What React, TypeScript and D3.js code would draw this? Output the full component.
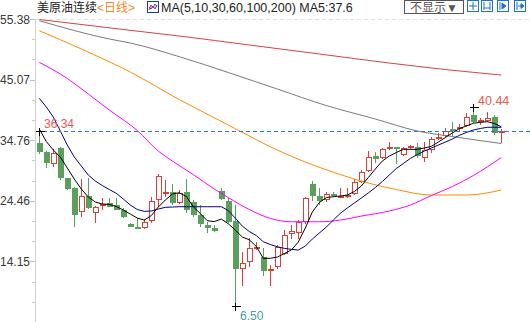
import React from "react";
import * as d3 from "d3";

// ---- data ----
const yTickValues = [55.38, 45.07, 34.76, 24.46, 14.15];

const candleOpen = [
  34.34, 32.8, 30.66, 33.38, 28.28, 26.68, 22.5, 25.27, 22.32, 23.7,
  24.0, 23.74, 22.88, 20.5, 19.95, 19.77, 21.0, 24.59, 25.85, 26.0,
  24.03, 26.0, 24.3, 22.0, 20.33, 19.88, 26.17, 24.47, 21.07, 12.8,
  13.99, 16.5, 14.84, 12.75, 13.14, 15.39, 18.75, 18.92, 20.9, 27.26,
  25.27, 24.59, 25.66, 25.15, 25.15, 25.61, 27.7, 29.52, 32.07, 31.68,
  33.26, 33.54, 32.24, 33.38, 33.65, 31.8, 33.1, 35.1, 35.47, 36.67,
  36.62, 37.18, 39.05, 37.9, 38.08, 38.76, 36.2,
];
const candleClose = [
  32.75, 30.83, 32.53, 28.28, 26.46, 22.0, 25.27, 23.3, 23.35, 23.9,
  23.45, 22.88, 21.64, 19.94, 19.8, 20.9, 24.4, 28.67, 26.0, 24.03,
  25.73, 22.88, 22.0, 20.5, 19.88, 19.3, 24.7, 20.9, 12.8, 13.82,
  16.37, 16.65, 12.56, 12.85, 16.65, 18.62, 19.32, 20.9, 24.87, 25.27,
  24.47, 25.61, 25.27, 25.32, 25.44, 27.7, 29.4, 31.95, 31.56, 33.21,
  33.54, 33.2, 33.38, 33.77, 32.07, 33.1, 34.9, 35.36, 36.38, 36.33,
  37.06, 38.76, 37.9, 38.2, 38.48, 35.93, 36.34,
];
const candleHigh = [
  36.34, 32.9, 33.2, 33.65, 28.4, 26.8, 28.1, 28.28, 23.57, 24.87,
  24.98, 24.87, 23.2, 20.6, 21.6, 21.3, 25.15, 29.01, 27.99, 27.26,
  26.29, 28.1, 24.59, 23.7, 20.9, 20.3, 26.58, 24.87, 23.74, 15.8,
  18.07, 17.5, 16.37, 13.5, 16.93, 19.48, 20.33, 21.19, 25.15, 27.82,
  26.58, 26.0, 25.9, 26.58, 26.7, 28.1, 29.69, 32.92, 32.8, 33.48,
  34.4, 33.65, 33.65, 33.94, 34.23, 34.5, 35.36, 35.93, 36.78, 37.9,
  37.52, 39.44, 40.44, 38.48, 39.6, 39.05, 36.7,
];
const candleLow = [
  32.5, 29.98, 30.25, 28.0, 26.3, 19.94, 21.65, 23.0, 20.73, 22.88,
  23.4, 22.88, 21.6, 19.94, 19.7, 19.65, 20.62, 23.45, 25.15, 23.74,
  23.9, 22.32, 21.75, 19.94, 19.0, 19.2, 24.59, 20.62, 6.5, 9.96,
  13.24, 16.1, 11.66, 9.96, 12.8, 15.23, 17.9, 17.9, 20.5, 24.47,
  23.74, 24.3, 25.1, 24.98, 25.0, 25.44, 27.43, 29.4, 30.83, 31.51,
  33.1, 30.7, 32.07, 33.2, 31.68, 31.1, 32.53, 34.8, 35.36, 35.36,
  36.38, 37.06, 37.63, 37.3, 37.9, 35.65, 34.23,
];

const ma5 = [
  36.67, 34.54, 33.09, 31.9, 30.03, 28.16, 26.46, 25.1, 24.25, 23.91,
  23.85, 23.48, 22.89, 22.2, 21.52, 21.18, 21.95, 23.4, 24.59, 25.61,
  25.83, 25.18, 23.45, 22.29, 21.06, 20.93, 21.35, 20.55, 19.48, 18.29,
  17.83, 16.68, 14.67, 14.67, 14.89, 15.48, 16.08, 17.44, 19.82, 22.54,
  24.16, 25.01, 25.15, 25.27, 25.44, 26.03, 26.97, 28.41, 29.86, 31.22,
  32.07, 32.67, 33.21, 33.21, 33.21, 33.43, 33.72, 34.45, 35.22, 35.99,
  36.72, 37.18, 37.64, 37.81, 37.91, 37.6, 37.06,
];
const ma10 = [
  41.89, 40.41, 38.71, 36.33, 33.94, 31.9, 30.37, 28.84, 27.82, 27.05,
  26.37, 25.73, 24.76, 23.74, 22.97, 22.66, 22.72, 23.06, 23.34, 23.4,
  23.45, 23.45, 23.45, 23.45, 23.45, 23.45, 23.45, 22.8, 21.52, 20.16,
  19.23, 18.55, 17.49, 17.02, 16.64, 16.37, 16.2, 16.08, 16.76, 17.95,
  18.97, 19.99, 21.18, 22.32, 23.23, 24.08, 24.93, 25.78, 26.71, 27.73,
  28.84, 29.95, 30.8, 31.65, 32.33, 32.92, 33.43, 33.94, 34.45, 34.96,
  35.59, 36.07, 36.5, 36.75, 36.96, 36.96, 36.96,
];
const ma30Idx = [0, 4, 7, 10, 14, 17, 19, 22, 25, 27, 30, 33, 36, 40, 43, 46, 50, 53, 56, 59, 62, 66];
const ma30Val = [48.01, 45.26, 42.62, 39.9, 36.41, 32.92, 31.22, 28.92, 26.46, 25.01, 22.97, 21.47, 20.89, 20.89, 21.18, 21.86, 22.72, 23.74, 25.35, 26.88, 28.75, 31.82];
const ma60Idx = [0, 6, 13, 20, 27, 34, 38, 43, 47, 51, 56, 61, 66];
const ma60Val = [53.39, 50.28, 46.36, 41.68, 37.35, 33.09, 31.05, 28.92, 27.48, 26.37, 25.44, 25.44, 26.29];
const ma100Idx = [0, 10, 13, 20, 27, 34, 41, 48, 54, 59, 66];
const ma100Val = [55.09, 51.98, 51.3, 48.97, 46.28, 43.47, 40.66, 38.37, 36.33, 35.39, 34.2];
const ma200Idx = [0, 12, 20, 30, 40, 50, 58, 66];
const ma200Val = [55.3, 53.59, 52.49, 50.96, 49.43, 47.89, 46.79, 45.85];

const lastPrice = 36.34;
const maxMark = { idx: 62, value: 40.44, label: "40.44" };
const minMark = { idx: 28, value: 6.5, label: "6.50" };
const startMark = { idx: 0, value: 36.34, label: "36.34" };

const titleName = "美原油连续";
const titlePeriod = "<日线>";
const titleMA = "MA(5,10,30,60,100,200) MA5:37.6";
const buttonLabel = "不显示▼";

// ---- styles ----
const W = 530;
const H = 322;
const RED = "#dc3f3a";
const GREEN = "#5c9f5c";
const LATIN = "'Liberation Sans', Arial, 'Noto Sans CJK SC', sans-serif";

export default function App() {
  const x = d3.scaleLinear().domain([0, 66]).range([39.3, 501.3]);
  const y = d3.scaleLinear().domain([55.38, 14.15]).range([19, 261.4]);

  const step = (yTickValues[0] - yTickValues[1]) / 3;
  const minorTicks = d3.range(0, 20).map((k) => yTickValues[0] - k * step).filter((v) => y(v) <= H);

  const denseLine = d3
    .line<number>()
    .x((_, i) => x(i))
    .y((d) => y(d));
  const sparseLine = (idx: number[], vals: number[]) =>
    d3
      .line<number>()
      .x((_, i) => x(idx[i]))
      .y((d) => y(d))
      .curve(d3.curveMonotoneX)(vals) || "";

  const cx = (i: number) => Math.round(x(i)) + 0.5;

  const candles = candleOpen.map((o, i) => {
    const c = candleClose[i];
    const up = c >= o;
    const col = up ? RED : GREEN;
    const xc = cx(i);
    const top = Math.round(y(Math.max(o, c)));
    const bot = Math.round(y(Math.min(o, c)));
    const hi = Math.round(y(candleHigh[i]));
    const lo = Math.round(y(candleLow[i]));
    const flat = bot - top < 2;
    return (
      <g key={i}>
        <line x1={xc} x2={xc} y1={hi} y2={lo} stroke={col} strokeWidth={1} />
        {flat ? (
          <line x1={xc - 3} x2={xc + 3} y1={top + 0.5} y2={top + 0.5} stroke={col} strokeWidth={2} />
        ) : up ? (
          <rect x={xc - 2.5} y={top + 0.5} width={5} height={bot - top - 1} fill="#fff" stroke={col} strokeWidth={1} />
        ) : (
          <rect x={xc - 3} y={top} width={6} height={bot - top} fill={col} />
        )}
      </g>
    );
  });

  const cross = (i: number, v: number) => {
    const px = cx(i);
    const py = Math.round(y(v)) + 0.5;
    return (
      <g stroke="#000" strokeWidth={1} shapeRendering="crispEdges">
        <line x1={px - 4} x2={px + 5} y1={py} y2={py} />
        <line x1={px} x2={px} y1={py - 4} y2={py + 4} />
      </g>
    );
  };

  return (
    <svg
      width={W}
      height={H}
      style={{ position: "absolute", left: 0, top: 0, background: "#fff" }}
    >
      {/* header */}
      <text x={37} y={12} fontFamily={LATIN} fontSize={12} fill="#222">
        {titleName}
        <tspan fill="#f08a1c">{titlePeriod}</tspan>
      </text>
      <g transform="translate(147,1)">
        <rect x={0.5} y={0.5} width={11} height={11} fill="#fff" stroke="#1a3f8f" />
        <polyline points="2,9 4,4 6,7 8,3 10,6" fill="none" stroke="#e03030" strokeWidth={1} />
        <polyline points="2,6 4,8 6,5 8,8 10,4" fill="none" stroke="#2050d0" strokeWidth={1} />
      </g>
      <text x={161} y={12} fontFamily={LATIN} fontSize={12.5} fill="#222">
        {titleMA}
      </text>
      <rect x={404.5} y={0.5} width={59} height={13} fill="#fff" stroke="#555" />
      <text x={434} y={11.5} textAnchor="middle" fontFamily={LATIN} fontSize={12} fill="#555">
        {buttonLabel}
      </text>
      {[467, 481, 497, 514].map((bx, k) => (
        <g key={k} transform={`translate(${bx},0)`} stroke="#1d6fd6" fill="none">
          <rect x={0.5} y={0.5} width={11} height={11} />
          {k === 0 && (
            <g>
              <line x1={6} x2={6} y1={2} y2={10} />
              <line x1={2} x2={10} y1={6} y2={6} />
            </g>
          )}
          {k === 1 && (
            <g>
              <line x1={3} x2={3} y1={2} y2={10} />
              <line x1={9} x2={9} y1={2} y2={10} />
              <line x1={3} x2={9} y1={8} y2={8} />
            </g>
          )}
          {k === 2 && (
            <g>
              <line x1={3} x2={3} y1={2} y2={10} />
              <path d="M5,3 L9,6 L5,9 Z" fill="#1d6fd6" />
            </g>
          )}
          {k === 3 && (
            <g>
              <line x1={3} x2={3} y1={2} y2={10} />
              <line x1={4} x2={9} y1={6} y2={6} />
              <path d="M7,3.5 L10,6 L7,8.5 Z" fill="#1d6fd6" />
            </g>
          )}
        </g>
      ))}

      {/* top dashed grid */}
      <line x1={35} x2={W} y1={19.5} y2={19.5} stroke="#e2e2e2" strokeDasharray="4,3" />

      {/* y axis */}
      <line x1={35.5} x2={35.5} y1={19} y2={H} stroke="#d0d0d0" />
      {minorTicks.map((v, k) => (
        <line key={k} x1={32} x2={35} y1={Math.round(y(v)) + 0.5} y2={Math.round(y(v)) + 0.5} stroke="#c8c8c8" />
      ))}
      {yTickValues.map((v) => (
        <g key={v}>
          <line x1={30} x2={35} y1={Math.round(y(v)) + 0.5} y2={Math.round(y(v)) + 0.5} stroke="#aac4e0" />
          <text x={30} y={y(v) + 4.5} textAnchor="end" fontFamily={LATIN} fontSize={12} fill="#3a3a3a">
            {v.toFixed(2)}
          </text>
        </g>
      ))}

      {/* candles */}
      <g shapeRendering="crispEdges">{candles}</g>

      {/* moving averages */}
      <path d={sparseLine(ma200Idx, ma200Val)} fill="none" stroke="#d64440" strokeWidth={1} />
      <path d={sparseLine(ma100Idx, ma100Val)} fill="none" stroke="#7a7a7a" strokeWidth={1} />
      <path d={sparseLine(ma60Idx, ma60Val)} fill="none" stroke="#ff8a00" strokeWidth={1} />
      <path d={sparseLine(ma30Idx, ma30Val)} fill="none" stroke="#ff00ff" strokeWidth={1} />
      <path d={denseLine(ma10) || ""} fill="none" stroke="#000080" strokeWidth={1} />
      <path d={denseLine(ma5) || ""} fill="none" stroke="#000" strokeWidth={1} />

      {/* last price dashed line */}
      <line
        x1={36}
        x2={W}
        y1={Math.round(y(lastPrice)) + 0.5}
        y2={Math.round(y(lastPrice)) + 0.5}
        stroke="#1a78f0"
        strokeWidth={1.2}
        strokeDasharray="4,3"
        shapeRendering="crispEdges"
      />

      {/* extreme marks */}
      {cross(startMark.idx, startMark.value)}
      {cross(maxMark.idx, maxMark.value)}
      {cross(minMark.idx, minMark.value)}
      <text x={44} y={128} fontFamily={LATIN} fontSize={12} fill="#e85a55">
        {startMark.label}
      </text>
      <text x={478} y={105} fontFamily={LATIN} fontSize={12.5} fill="#e85a55">
        {maxMark.label}
      </text>
      <text x={240} y={320} fontFamily={LATIN} fontSize={12} fill="#4aa09a">
        {minMark.label}
      </text>
    </svg>
  );
}
